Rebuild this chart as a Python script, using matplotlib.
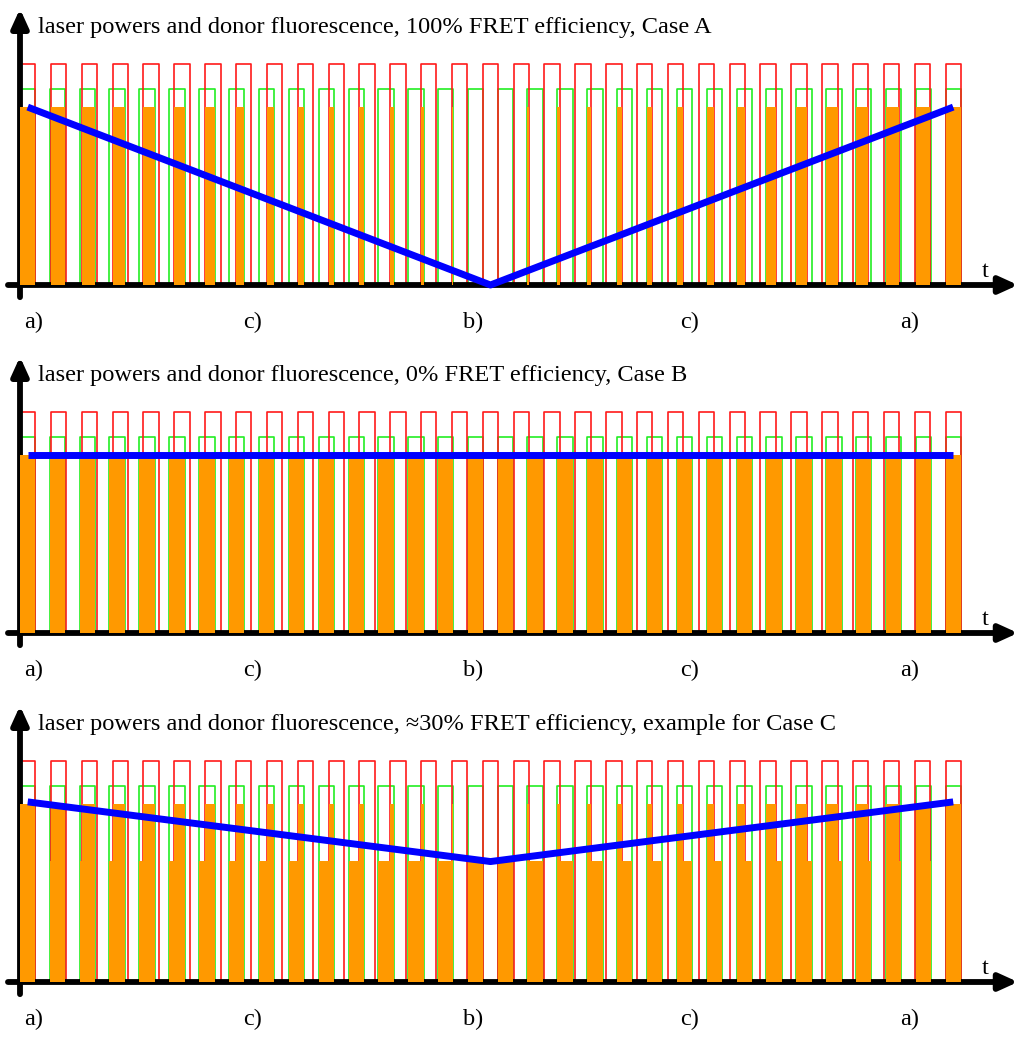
import matplotlib
matplotlib.use("Agg")
import matplotlib.pyplot as plt
import numpy as np

plt.rcParams['font.family'] = ['Liberation Serif', 'DejaVu Serif']

# pulse start times (red laser period = 1, green laser slightly faster)
red_starts = [0, 1, 2, 3, 4, 5, 6, 7, 8, 9, 10, 11, 12, 13, 14, 15, 16, 17, 18, 19,
              20, 21, 22, 23, 24, 25, 26, 27, 28, 29, 30]
green_starts = [0.00, 0.97, 1.94, 2.90, 3.87, 4.84, 5.81, 6.77, 7.74, 8.71, 9.68,
                10.65, 11.61, 12.58, 13.55, 14.52, 15.48, 16.45, 17.42, 18.39, 19.35,
                20.32, 21.29, 22.26, 23.23, 24.19, 25.16, 26.13, 27.10, 28.06, 29.03, 30.00]
pulse_width = 0.5
red_power = 1.0
green_power = 0.885
donor_full = 0.805

titles = ["laser powers and donor fluorescence, 100% FRET efficiency, Case A",
          "laser powers and donor fluorescence, 0% FRET efficiency, Case B",
          "laser powers and donor fluorescence, \u224830% FRET efficiency, example for Case C"]
# donor level when only green is on (fraction of full), per case
green_only_level = [0.0, 1.0, 0.68]
# average fluorescence trend (blue)
trend_t = [0.25, 15.25, 30.25]
trend_A = [0.805, 0.0, 0.805]
trend_B = [0.805, 0.805, 0.805]
trend_C = [0.815, 0.545, 0.815]
trends = [trend_A, trend_B, trend_C]
phase_labels = ["a)", "c)", "b)", "c)", "a)"]
phase_pos = [0.45, 7.55, 14.68, 21.72, 28.85]

# layout in pixels
W, H = 1024, 1041
x0, px_t, px_y = 20, 30.85, 221
baselines = [285, 633, 982]
ylo, yhi = -0.22, 1.30


def square_wave(starts, w, h):
    xs, ys = [], []
    for s in starts:
        xs += [s, s, s + w, s + w]
        ys += [0, h, h, 0]
    return xs, ys


fig = plt.figure(figsize=(W / 100, H / 100), dpi=100)
red_x, red_y = square_wave(red_starts, pulse_width, red_power)
grn_x, grn_y = square_wave(green_starts, pulse_width, green_power)

for k, b in enumerate(baselines):
    bottom = 1 - (b - ylo * px_y) / H
    height = (yhi - ylo) * px_y / H
    ax = fig.add_axes([0, bottom, 1, height])
    ax.set_xlim(-x0 / px_t, (W - x0) / px_t)
    ax.set_ylim(ylo, yhi)
    ax.axis('off')

    ax.plot(grn_x, grn_y, color='#22ee22', lw=1.2, zorder=2)
    ax.plot(red_x, red_y, color='#ff1a1a', lw=1.2, zorder=2)

    # axes arrows
    arr = dict(arrowstyle='-|>,head_length=1.1,head_width=0.5', lw=4.2, color='k',
               shrinkA=0, shrinkB=0)
    ax.annotate('', xy=(32.35, 0), xytext=(-0.39, 0), arrowprops=arr, zorder=3)
    ax.annotate('', xy=(0, 1.25), xytext=(0, -0.055), arrowprops=arr, zorder=3)

    # donor fluorescence
    lvl = green_only_level[k]
    if lvl > 0:
        ax.bar(green_starts, donor_full * lvl, width=pulse_width, align='edge',
               color='#ff9900', lw=0, zorder=4)
    for g in green_starts:
        for r in red_starts:
            lo, hi = max(g, r), min(g, r) + pulse_width
            if hi > lo:
                ax.bar(lo, donor_full, width=hi - lo, align='edge',
                       color='#ff9900', lw=0, zorder=4)

    ax.plot(trend_t, trends[k], color='#0000ff', lw=5, solid_capstyle='butt', zorder=5)

    ax.text(0.58, 1.14, titles[k], fontsize=17.6, ha='left', va='baseline')
    ax.text(31.28, 0.06, 't', fontsize=17.6, ha='center', va='center')
    for lab, p in zip(phase_labels, phase_pos):
        ax.text(p, -0.17, lab, fontsize=17.6, ha='center', va='center')

fig.savefig('out.png', dpi=100)
